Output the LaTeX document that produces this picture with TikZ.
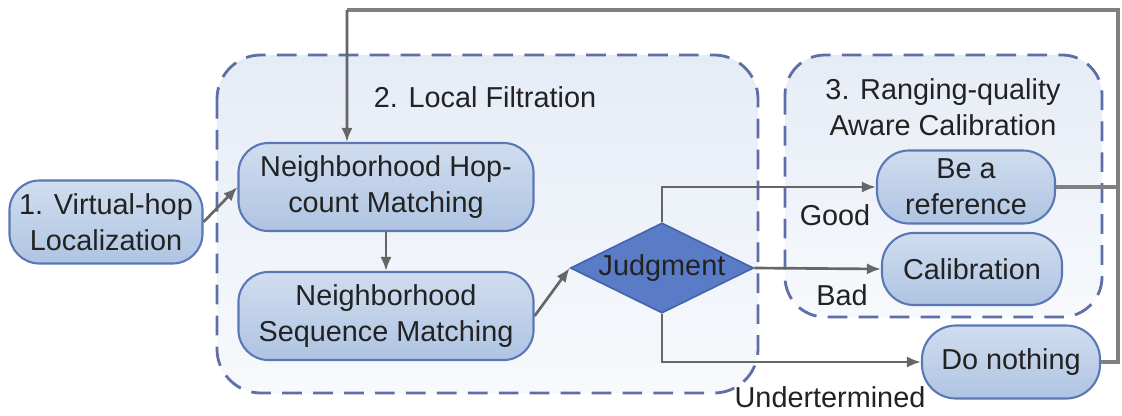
\documentclass[tikz,border=0pt]{standalone}
\usepackage{fontspec}
\setmainfont{Liberation Sans}
\usetikzlibrary{shapes}
\usetikzlibrary{calc}
\usetikzlibrary{arrows.meta}

\definecolor{regline}{HTML}{5E6FA8}
\definecolor{regtop}{HTML}{E6ECF6}
\definecolor{regbot}{HTML}{F7F9FC}
\definecolor{boxline}{HTML}{5A78B6}
\definecolor{boxtop}{HTML}{D0DDEF}
\definecolor{boxbot}{HTML}{AFC4E2}
\definecolor{judgfill}{HTML}{5A7CC6}
\definecolor{judgline}{HTML}{4465AE}
\definecolor{arrgray}{HTML}{666666}
\definecolor{fbgray}{HTML}{808080}
\definecolor{txt}{HTML}{222222}

\tikzset{
  region/.style={draw=regline, line width=2pt, dash pattern=on 14pt off 8pt,
    rounded corners=1.1cm, top color=regtop, bottom color=regbot},
  proc/.style={draw=boxline, line width=1.5pt, rounded corners=0.75cm,
    top color=boxtop, bottom color=boxbot, align=center, text=txt, inner sep=0pt},
  judge/.style={draw=judgline, line width=1.2pt, fill=judgfill, shape=diamond,
    aspect=2, inner sep=0pt, minimum width=4.575cm, minimum height=2.25cm, text=txt},
  arr/.style={draw=arrgray, line width=1.9pt, -{Latex[length=10pt,width=8pt]}},
  fb/.style={draw=fbgray, line width=2.2pt},
  lbl/.style={text=txt}
}

\begin{document}
\begin{tikzpicture}[x=0.025cm, y=-0.025cm, font=\fontsize{20.5}{25.5}\selectfont]
    \useasboundingbox[fill=white] (0,0) rectangle (1122,415);

    % dashed stage regions
    \draw[region] (217,55) rectangle (758,393);
    \draw[region, rounded corners=1cm] (785,55) rectangle (1102,317);
    \node[lbl] (t2) at (485,97) {2. Local Filtration};
    \node[lbl, align=center] (t3) at (943,107) {3. Ranging-quality\\Aware Calibration};

    % boxes
    \node[proc, minimum width=4.825cm, minimum height=2.075cm] (loc) at (106,222) {1. Virtual-hop\\Localization};
    \node[proc, minimum width=7.375cm, minimum height=2.2cm] (hop) at (386,187) {Neighborhood Hop-\\count Matching};
    \node[proc, minimum width=7.375cm, minimum height=2.2cm] (seq) at (386,316) {Neighborhood\\Sequence Matching};
    \node[judge] (judg) at (662,268) {Judgment};
    \node[proc, minimum width=4.45cm, minimum height=1.825cm, rounded corners=0.8cm] (ref) at (966,187) {Be a\\reference};
    \node[proc, minimum width=4.5cm, minimum height=1.8cm, rounded corners=0.8cm] (cal) at (972,269) {Calibration};
    \node[proc, minimum width=4.45cm, minimum height=1.825cm, rounded corners=0.85cm] (none) at (1011,362) {Do nothing};

    % feedback loop
    \coordinate (fbb) at (1118,362);
    \coordinate (fbt) at (1118,10);
    \coordinate (fbl) at (347,10);
    \draw[fb] (ref.east) -- (ref.east -| fbb);
    \draw[fb] (none.east) -- (fbb) -- (fbt) -- (fbl);
    \draw[arr] (fbl) -- ([xshift=-0.975cm]hop.north);

    % flow
    \draw[arr] (loc.east) -- (hop.west);
    \draw[arr] (hop.south) -- (seq.north);
    \draw[arr] (seq.east) -- (judg.west);
    \draw[arr] (judg.north) |- (ref.west);
    \draw[arr] (judg.east) -- (cal.west);
    \draw[arr] (judg.south) |- (none.west);

    \node[lbl] (good) at (835,215) {Good};
    \node[lbl] (bad) at (842,295) {Bad};
    \node[lbl] (und) at (830,397) {Undertermined};

\end{tikzpicture}
\end{document}
